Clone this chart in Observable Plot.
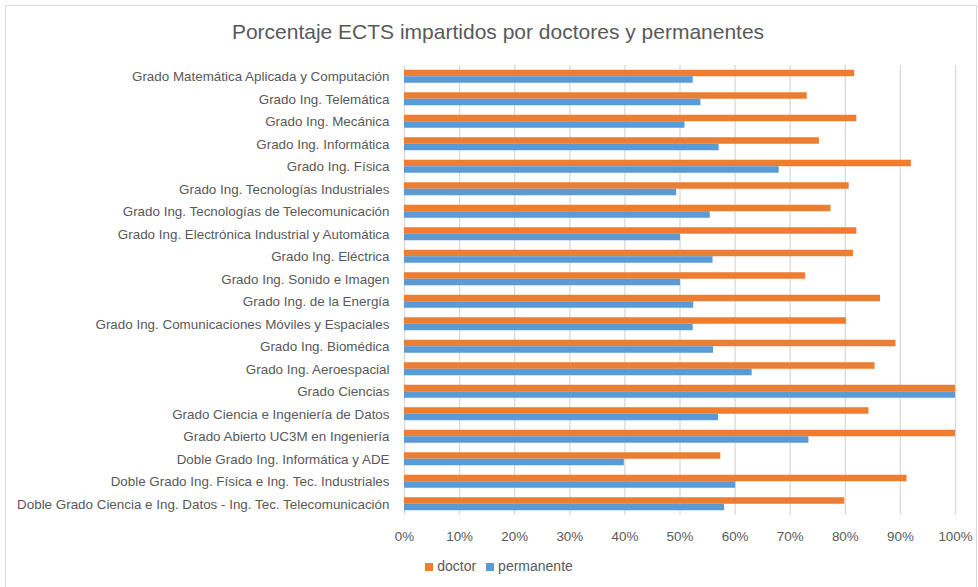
<!DOCTYPE html>
<html>
<head>
<meta charset="utf-8">
<script src="https://cdn.jsdelivr.net/npm/d3@7"></script>
<script src="https://cdn.jsdelivr.net/npm/@observablehq/plot@0.6"></script>
<style>
  html, body { margin: 0; padding: 0; background: #fff; }
  body { width: 978px; height: 587px; position: relative; overflow: hidden; font-family: "Liberation Sans", Arial, sans-serif; }
  #frame { position: absolute; left: 5px; top: 5px; width: 972px; height: 590px; border: 1px solid #d9d9d9; box-sizing: border-box; }
  #title { position: absolute; left: 0; width: 996px; top: 20px; text-align: center; font-size: 21px; color: #595959; }
  #chart { position: absolute; left: 0; top: 0; }
  #legend { position: absolute; top: 558px; left: 0; width: 998px; text-align: center; font-size: 14px; color: #595959; }
  #legend span.sw { display: inline-block; width: 8px; height: 8px; margin-right: 4px; vertical-align: 0px; }
  #legend span.item { margin: 0 5px; }
</style>
</head>
<body>
<div id="frame"></div>
<div id="chart"></div>
<div id="title">Porcentaje ECTS impartidos por doctores y permanentes</div>
<div id="legend"></div>
<script>
const categories = [
  "Grado Matemática Aplicada y Computación",
  "Grado Ing. Telemática",
  "Grado Ing. Mecánica",
  "Grado Ing. Informática",
  "Grado Ing. Física",
  "Grado Ing. Tecnologías Industriales",
  "Grado Ing. Tecnologías de Telecomunicación",
  "Grado Ing. Electrónica Industrial y Automática",
  "Grado Ing. Eléctrica",
  "Grado Ing. Sonido e Imagen",
  "Grado Ing. de la Energía",
  "Grado Ing. Comunicaciones Móviles y Espaciales",
  "Grado Ing. Biomédica",
  "Grado Ing. Aeroespacial",
  "Grado Ciencias",
  "Grado Ciencia e Ingeniería de Datos",
  "Grado Abierto UC3M en Ingeniería",
  "Doble Grado Ing. Informática y ADE",
  "Doble Grado Ing. Física e Ing. Tec. Industriales",
  "Doble Grado Ciencia e Ing. Datos - Ing. Tec. Telecomunicación"
];
const doctor = [81.7, 73.1, 82.1, 75.3, 92.0, 80.7, 77.4, 82.1, 81.5, 72.8, 86.4, 80.2, 89.2, 85.4, 100, 84.3, 100, 57.4, 91.2, 79.9];
const permanente = [52.4, 53.8, 50.9, 57.1, 68.0, 49.4, 55.5, 50.1, 56.0, 50.1, 52.5, 52.4, 56.1, 63.1, 100, 57.0, 73.4, 39.9, 60.1, 58.1];
const seriesNames = ["doctor", "permanente"];
const seriesColors = ["#ED7D31", "#5B9BD5"];
const xTicks = [0, 10, 20, 30, 40, 50, 60, 70, 80, 90, 100];

const rows = [];
categories.forEach((c, i) => {
  rows.push({cat: c, serie: "doctor", value: doctor[i]});
  rows.push({cat: c, serie: "permanente", value: permanente[i]});
});

const chart = Plot.plot({
  width: 978,
  height: 560,
  marginLeft: 404,
  marginRight: 23,
  marginTop: 65,
  marginBottom: 45,
  style: {fontFamily: "'Liberation Sans', Arial, sans-serif", fontSize: "13.4px", color: "#595959", background: "transparent"},
  x: {domain: [0, 100], ticks: xTicks, tickFormat: d => d + "%", tickSize: 0, tickPadding: 16, label: null, fontSize: 14},
  y: {domain: seriesNames, axis: null, paddingInner: 0, paddingOuter: 0.73, round: false},
  fy: {domain: categories, padding: 0, round: false, label: null, axis: "left", tickSize: 0, tickPadding: 15},
  color: {domain: seriesNames, range: seriesColors},
  marks: [
    Plot.ruleX(xTicks, {x: d => d, stroke: "#d9d9d9", strokeWidth: 1.3, strokeOpacity: 1}),
    Plot.barX(rows, {x: "value", y: "serie", fy: "cat", fill: "serie", insetTop: 0, insetBottom: 0})
  ]
});
document.getElementById("chart").appendChild(chart);

const legend = document.getElementById("legend");
seriesNames.forEach((s, i) => {
  const item = document.createElement("span");
  item.className = "item";
  item.innerHTML = `<span class="sw" style="background:${seriesColors[i]}"></span>${s}`;
  legend.appendChild(item);
});
</script>
</body>
</html>
